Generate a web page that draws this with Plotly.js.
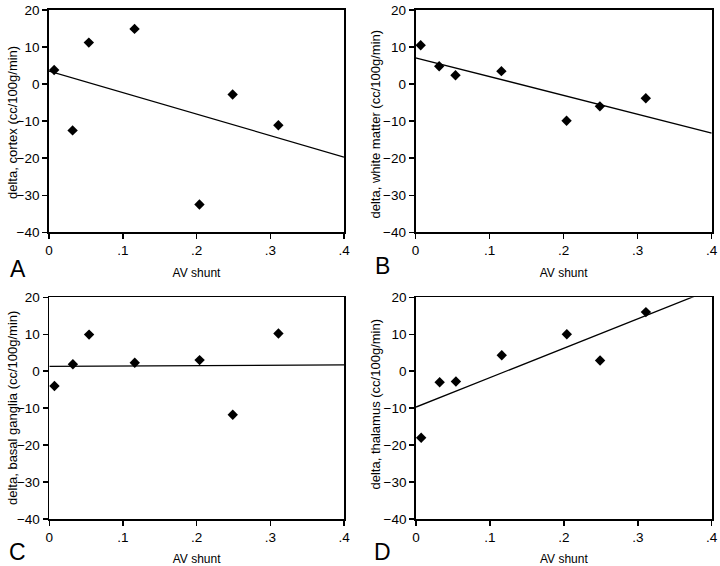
<!DOCTYPE html>
<html>
<head>
<meta charset="utf-8">
<script src="https://cdn.plot.ly/plotly-3.0.1.min.js"></script>
<style>
html,body{margin:0;padding:0;background:#fff;}
#chart{width:720px;height:566px;}
</style>
</head>
<body>
<div id="chart"></div>
<script>
// AV shunt values (shared by all four panels)
const avShunt = [0.007, 0.032, 0.054, 0.116, 0.204, 0.249, 0.311];

// delta values per region (cc/100g/min)
const deltaCortex = [3.8, -12.5, 11.2, 14.9, -32.5, -2.8, -11.1];
const deltaWhiteMatter = [10.5, 4.8, 2.4, 3.5, -9.9, -6.0, -3.8];
const deltaBasalGanglia = [-4.0, 1.9, 9.9, 2.3, 3.0, -11.8, 10.2];
const deltaThalamus = [-18.0, -3.0, -2.8, 4.3, 10.0, 2.9, 16.0];

// regression lines: intercept and slope per panel
const fitIntercept = [3.5, 7.1, 1.3, -9.7];
const fitSlope = [-58.0, -50.75, 1.0, 79.6];
const fitRange = [0, 0.4];

const panelLetters = ['A', 'B', 'C', 'D'];
const yTitles = [
  'delta, cortex (cc/100g/min)',
  'delta, white matter (cc/100g/min)',
  'delta, basal ganglia (cc/100g/min)',
  'delta, thalamus (cc/100g/min)'
];
const xTitle = 'AV shunt';
const xTickVals = [0, 0.1, 0.2, 0.3, 0.4];
const xTickText = ['0', '.1', '.2', '.3', '.4'];
const yTickVals = [-40, -30, -20, -10, 0, 10, 20];

const series = [deltaCortex, deltaWhiteMatter, deltaBasalGanglia, deltaThalamus];

const W = 720, H = 566;
const px = v => v / W;
const py = v => 1 - v / H;

// panel boxes in pixels [left, right, top, bottom]
const boxes = [
  [49, 344, 10, 232.3],
  [415.5, 711.7, 10, 232.3],
  [49.3, 344, 297.3, 519],
  [416, 711.7, 297.3, 519]
];
const letterPos = [[17.5, 268.5], [382.5, 266], [17.5, 551.5], [382, 551.5]];
const yTitlePos = [[12, 123], [374.5, 124], [12, 408], [374.5, 404]];

const font = {family: '"Liberation Sans", Arial, sans-serif', color: '#000'};
const traces = [];
const layout = {
  width: W, height: H,
  margin: {l: 0, r: 0, t: 0, b: 0},
  paper_bgcolor: '#fff', plot_bgcolor: '#fff',
  showlegend: false,
  font: font,
  annotations: []
};

for (let i = 0; i < 4; i++) {
  const sfx = i === 0 ? '' : String(i + 1);
  const xa = 'x' + sfx, ya = 'y' + sfx;
  traces.push({
    type: 'scatter', mode: 'markers', x: avShunt, y: series[i],
    xaxis: xa, yaxis: ya,
    marker: {symbol: 'diamond', size: 8, color: '#000'},
    cliponaxis: false
  });
  traces.push({
    type: 'scatter', mode: 'lines',
    x: fitRange,
    y: fitRange.map(v => fitIntercept[i] + fitSlope[i] * v),
    xaxis: xa, yaxis: ya,
    line: {color: '#000', width: 1.3}
  });
  const b = boxes[i];
  const axCommon = {
    showgrid: false, zeroline: false,
    showline: true, linecolor: '#000', linewidth: 1.8, mirror: true,
    ticks: 'outside', ticklen: 5, tickwidth: 1.5, tickcolor: '#000',
    tickfont: {family: font.family, size: 13.5, color: '#000'},
    fixedrange: true
  };
  layout['xaxis' + sfx] = Object.assign({}, axCommon, {
    domain: [px(b[0]), px(b[1])],
    anchor: ya,
    range: [0, 0.4],
    tickmode: 'array', tickvals: xTickVals, ticktext: xTickText,
    title: {text: xTitle, font: {family: font.family, size: 12, color: '#000'}, standoff: 11}
  });
  layout['yaxis' + sfx] = Object.assign({}, axCommon, {
    domain: [py(b[3]), py(b[2])],
    anchor: xa,
    range: [-40, 20],
    tickmode: 'array', tickvals: yTickVals,
    ticklabelstandoff: 0
  });
  layout.annotations.push({
    text: yTitles[i], xref: 'paper', yref: 'paper',
    x: px(yTitlePos[i][0]), y: py(yTitlePos[i][1]),
    xanchor: 'center', yanchor: 'middle', showarrow: false, textangle: -90,
    font: {family: font.family, size: 13, color: '#000'}
  });
  layout.annotations.push({
    text: panelLetters[i], xref: 'paper', yref: 'paper',
    x: px(letterPos[i][0]), y: py(letterPos[i][1]),
    xanchor: 'center', yanchor: 'middle', showarrow: false,
    font: {family: font.family, size: 23, color: '#000'}
  });
}

Plotly.newPlot('chart', traces, layout, {staticPlot: true, displayModeBar: false});
</script>
</body>
</html>
